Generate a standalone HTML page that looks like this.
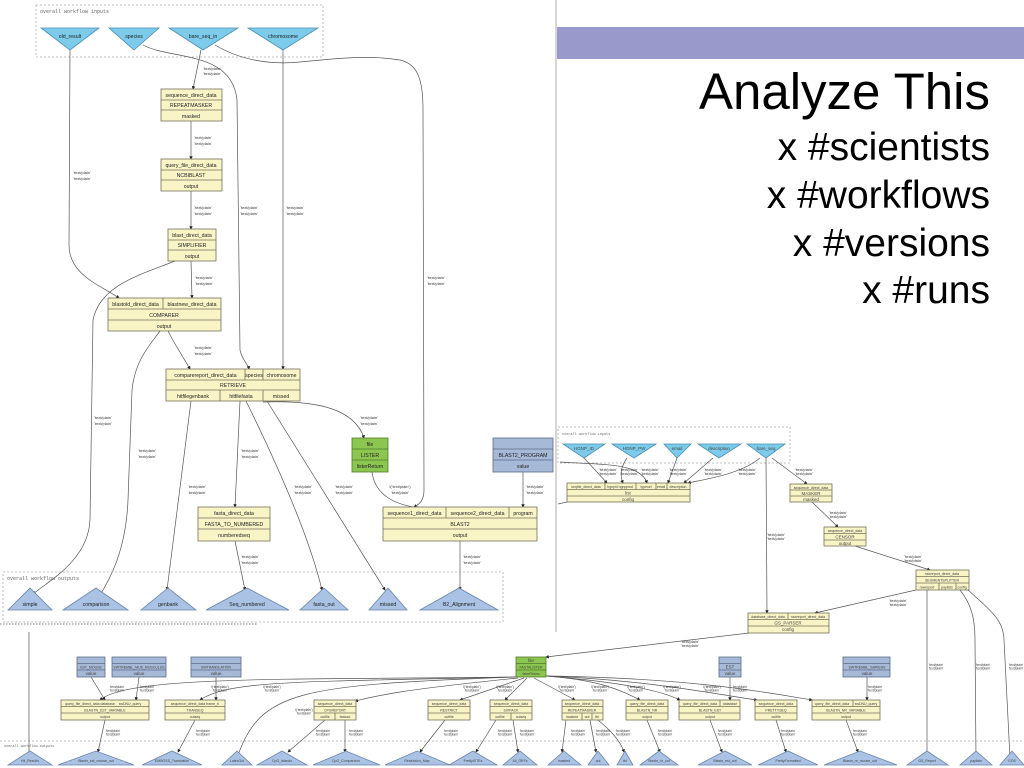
<!DOCTYPE html>
<html><head><meta charset="utf-8"><style>
html,body{margin:0;padding:0;background:#fff;}
svg{display:block;font-family:"Liberation Sans",sans-serif;}
.b{fill:#f8f4c6;stroke:#77705a;stroke-width:0.8}
.bl{fill:#a6b9d6;stroke:#5a6c8a;stroke-width:0.8}
.gr{fill:#8cc650;stroke:#4f7a28;stroke-width:0.8}
.ti{fill:#7ccbea;stroke:#4b8fb4;stroke-width:0.8}
.to{fill:#aac2e4;stroke:#6a84ac;stroke-width:0.8}
.e{fill:none;stroke:#555;stroke-width:0.7}
.d{fill:none;stroke:#aaa;stroke-width:0.8;stroke-dasharray:2,2}
.t{font-size:5.2px;fill:#222;text-anchor:middle}
.s{font-size:4px;fill:#333;text-anchor:middle}
.l{font-size:4.5px;fill:#444;text-anchor:middle}
.m{font-family:"Liberation Mono",monospace;font-size:5px;fill:#666}
</style></head><body>
<svg width="1024" height="768" viewBox="0 0 1024 768" xmlns="http://www.w3.org/2000/svg">
<defs><marker id="a" markerWidth="5" markerHeight="5" refX="4" refY="2.5" orient="auto"><path d="M0,0L5,2.5L0,5z" fill="#222"/></marker></defs>

<!-- slide chrome -->
<line x1="556" y1="0" x2="556" y2="632" stroke="#c8c8c8" stroke-width="1.5"/>
<rect x="557" y="27" width="467" height="32" fill="#9999cc"/>
<text x="990" y="109" font-size="51" text-anchor="end" fill="#000">Analyze This</text>
<text x="990" y="160" font-size="39" text-anchor="end">x #scientists</text>
<text x="990" y="208" font-size="39" text-anchor="end">x #workflows</text>
<text x="990" y="256" font-size="39" text-anchor="end">x #versions</text>
<text x="990" y="303" font-size="39" text-anchor="end">x #runs</text>

<!-- ============ LEFT DIAGRAM ============ -->
<rect class="d" x="36" y="5" width="287" height="52"/>
<text class="m" x="40" y="13">overall workflow inputs</text>
<polygon class="ti" points="41,28 99,28 70,50"/><text class="t" x="70" y="38">old_result</text>
<polygon class="ti" points="109,28 159,28 134,50"/><text class="t" x="134" y="38">species</text>
<polygon class="ti" points="169,28 238,28 203,50"/><text class="t" x="203" y="38">bare_seq_in</text>
<polygon class="ti" points="248,28 318,28 283,50"/><text class="t" x="283" y="38">chromosome</text>

<path class="e" marker-end="url(#a)" d="M70,50 L69,245 C69,275 100,285 119,298"/>
<path class="e" marker-end="url(#a)" d="M143,45 C170,60 232,50 237,100 L240,350 C242,360 248,364 249,369"/>
<path class="e" marker-end="url(#a)" d="M201,50 L193,89"/>
<path class="e" marker-end="url(#a)" d="M215,45 C240,60 270,65 300,62 C340,58 370,55 400,60 C418,64 423,80 423,110 L424,490 C424,500 420,504 414,507"/>
<path class="e" marker-end="url(#a)" d="M283,50 L283,369"/>
<path class="e" marker-end="url(#a)" d="M191,121 L191,159"/>
<path class="e" marker-end="url(#a)" d="M191,191 L191,229"/>
<path class="e" marker-end="url(#a)" d="M191,261 L192,298"/>
<path class="e" marker-end="url(#a)" d="M175,261 C140,275 100,285 93,320 L90,520 C88,560 50,580 33,594"/>
<path class="e" marker-end="url(#a)" d="M160,331 C150,345 135,360 132,390 L128,500 C126,550 110,580 98,598"/>
<path class="e" marker-end="url(#a)" d="M168,331 C175,345 185,360 190,369"/>
<path class="e" marker-end="url(#a)" d="M191,401 L167,590"/>
<path class="e" marker-end="url(#a)" d="M240,401 L235,507"/>
<path class="e" marker-end="url(#a)" d="M246,401 C280,470 310,540 322,590"/>
<path class="e" marker-end="url(#a)" d="M267,401 L385,590"/>
<path class="e" marker-end="url(#a)" d="M263,402 C320,400 355,410 364,438"/>
<path class="e" marker-end="url(#a)" d="M372,472 C375,495 395,505 420,508"/>
<path class="e" marker-end="url(#a)" d="M523,472 L523,507"/>
<path class="e" marker-end="url(#a)" d="M235,541 L245,590"/>
<path class="e" marker-end="url(#a)" d="M460,541 L460,590"/>

<g class="s">
<text x="212" y="70">'text/plain'</text><text x="212" y="75">'text/plain'</text>
<text x="203" y="139">'text/plain'</text><text x="203" y="145">'text/plain'</text>
<text x="203" y="209">'text/plain'</text><text x="203" y="215">'text/plain'</text>
<text x="204" y="279">'text/plain'</text><text x="204" y="285">'text/plain'</text>
<text x="82" y="174">'text/plain'</text><text x="82" y="180">'text/plain'</text>
<text x="249" y="209">'text/plain'</text><text x="249" y="215">'text/plain'</text>
<text x="295" y="209">'text/plain'</text><text x="295" y="215">'text/plain'</text>
<text x="436" y="279">'text/plain'</text><text x="436" y="285">'text/plain'</text>
<text x="203" y="349">'text/plain'</text><text x="203" y="355">'text/plain'</text>
<text x="103" y="419">'text/plain'</text><text x="103" y="425">'text/plain'</text>
<text x="147" y="452">'text/plain'</text><text x="147" y="458">'text/plain'</text>
<text x="250" y="452">'text/plain'</text><text x="250" y="458">'text/plain'</text>
<text x="197" y="488">'text/plain'</text><text x="197" y="494">'text/plain'</text>
<text x="303" y="488">'text/plain'</text><text x="303" y="494">'text/plain'</text>
<text x="344" y="488">'text/plain'</text><text x="344" y="494">'text/plain'</text>
<text x="369" y="419">'text/plain'</text><text x="369" y="425">'text/plain'</text>
<text x="400" y="488">l('text/plain')</text><text x="400" y="494">'text/plain'</text>
<text x="535" y="488">'text/plain'</text><text x="535" y="494">'text/plain'</text>
<text x="250" y="558">'text/plain'</text><text x="250" y="564">'text/plain'</text>
<text x="472" y="558">'text/plain'</text><text x="472" y="564">'text/plain'</text>
</g>

<g>
<rect class="b" x="161" y="89" width="61" height="32"/><line class="b" x1="161" y1="100" x2="222" y2="100"/><line class="b" x1="161" y1="110" x2="222" y2="110"/>
<text class="t" x="191" y="97">sequence_direct_data</text><text class="t" x="191" y="107">REPEATMASKER</text><text class="t" x="191" y="118">masked</text>
<rect class="b" x="161" y="159" width="61" height="32"/><line class="b" x1="161" y1="170" x2="222" y2="170"/><line class="b" x1="161" y1="180" x2="222" y2="180"/>
<text class="t" x="191" y="167">query_file_direct_data</text><text class="t" x="191" y="177">NCBIBLAST</text><text class="t" x="191" y="188">output</text>
<rect class="b" x="168" y="229" width="48" height="32"/><line class="b" x1="168" y1="240" x2="216" y2="240"/><line class="b" x1="168" y1="250" x2="216" y2="250"/>
<text class="t" x="192" y="237">blast_direct_data</text><text class="t" x="192" y="247">SIMPLIFIER</text><text class="t" x="192" y="258">output</text>
<rect class="b" x="108" y="298" width="113" height="33"/><line class="b" x1="108" y1="309" x2="221" y2="309"/><line class="b" x1="108" y1="320" x2="221" y2="320"/><line class="b" x1="163" y1="298" x2="163" y2="309"/>
<text class="t" x="135.5" y="306">blastold_direct_data</text><text class="t" x="192" y="306">blastnew_direct_data</text><text class="t" x="164" y="317">COMPARER</text><text class="t" x="164" y="328">output</text>
<rect class="b" x="166" y="369" width="134" height="32"/><line class="b" x1="166" y1="380" x2="300" y2="380"/><line class="b" x1="166" y1="390" x2="300" y2="390"/>
<line class="b" x1="245" y1="369" x2="245" y2="380"/><line class="b" x1="263" y1="369" x2="263" y2="380"/><line class="b" x1="220" y1="390" x2="220" y2="401"/><line class="b" x1="263" y1="390" x2="263" y2="401"/>
<text class="t" x="205.5" y="377">comparereport_direct_data</text><text class="t" x="254" y="377">species</text><text class="t" x="281.5" y="377">chromosome</text>
<text class="t" x="233" y="387">RETRIEVE</text><text class="t" x="193" y="398">hitfilegenbank</text><text class="t" x="241" y="398">hitfilefasta</text><text class="t" x="281" y="398">missed</text>
<rect class="gr" x="352" y="438" width="36" height="34"/><line class="gr" x1="352" y1="449" x2="388" y2="449"/><line class="gr" x1="352" y1="460" x2="388" y2="460"/>
<text class="t" x="370" y="446">file</text><text class="t" x="370" y="457">LISTER</text><text class="t" x="370" y="468">listerReturn</text>
<rect class="bl" x="493" y="438" width="60" height="34"/><line class="bl" x1="493" y1="449" x2="553" y2="449"/><line class="bl" x1="493" y1="460" x2="553" y2="460"/>
<text class="t" x="523" y="457">BLAST2_PROGRAM</text><text class="t" x="523" y="468">value</text>
<rect class="b" x="383" y="507" width="154" height="34"/><line class="b" x1="383" y1="518" x2="537" y2="518"/><line class="b" x1="383" y1="529" x2="537" y2="529"/><line class="b" x1="446" y1="507" x2="446" y2="518"/><line class="b" x1="509" y1="507" x2="509" y2="518"/>
<text class="t" x="414.5" y="515">sequence1_direct_data</text><text class="t" x="477.5" y="515">sequence2_direct_data</text><text class="t" x="523" y="515">program</text>
<text class="t" x="460" y="526">BLAST2</text><text class="t" x="460" y="537">output</text>
<rect class="b" x="198" y="507" width="72" height="34"/><line class="b" x1="198" y1="518" x2="270" y2="518"/><line class="b" x1="198" y1="529" x2="270" y2="529"/>
<text class="t" x="234" y="515">fasta_direct_data</text><text class="t" x="234" y="526">FASTA_TO_NUMBERED</text><text class="t" x="234" y="537">numberedseq</text>
</g>

<rect class="d" x="3" y="572" width="500" height="50"/>
<text class="m" x="7" y="580">overall workflow outputs</text>
<polygon class="to" points="8,610 52,610 30,588"/><text class="t" x="30" y="606">simple</text>
<polygon class="to" points="63,610 128,610 96,588"/><text class="t" x="96" y="606">comparison</text>
<polygon class="to" points="141,610 196,610 168,588"/><text class="t" x="168" y="606">genbank</text>
<polygon class="to" points="206,610 289,610 247,588"/><text class="t" x="247" y="606">Seq_numbered</text>
<polygon class="to" points="300,610 348,610 324,588"/><text class="t" x="324" y="606">fasta_out</text>
<polygon class="to" points="369,610 407,610 388,588"/><text class="t" x="388" y="606">missed</text>
<polygon class="to" points="420,610 498,610 459,588"/><text class="t" x="459" y="606">B2_Alignment</text>

<!-- ============ RIGHT MIDDLE DIAGRAM ============ -->
<rect class="d" x="558" y="427" width="232" height="36"/>
<text class="m" x="562" y="435" style="font-size:3.5px">overall workflow inputs</text>
<g class="l">
<polygon class="ti" points="563,444 605,444 584,458"/><text x="584" y="450">HGNP_ID</text>
<polygon class="ti" points="612,444 656,444 634,458"/><text x="634" y="450">HGNP_PW</text>
<polygon class="ti" points="664,444 691,444 677,458"/><text x="677" y="450">email</text>
<polygon class="ti" points="698,444 741,444 719,458"/><text x="719" y="450">description</text>
<polygon class="ti" points="747,444 785,444 766,458"/><text x="766" y="450">bare_seq</text>
</g>
<path class="e" marker-end="url(#a)" d="M584,458 L607,483"/>
<path class="e" marker-end="url(#a)" d="M627,458 C620,468 620,476 623,483"/>
<path class="e" marker-end="url(#a)" d="M560,462 C600,465 640,462 647,483"/>
<path class="e" marker-end="url(#a)" d="M677,458 L668,483"/>
<path class="e" marker-end="url(#a)" d="M713,458 L684,483"/>
<path class="e" marker-end="url(#a)" d="M760,458 C740,475 700,480 688,483"/>
<path class="e" marker-end="url(#a)" d="M766,458 L767,613"/>
<path class="e" marker-end="url(#a)" d="M772,458 L807,484"/>
<path class="e" marker-end="url(#a)" d="M812,502 L838,527"/>
<path class="e" marker-end="url(#a)" d="M855,546 L930,570"/>
<path class="e" marker-end="url(#a)" d="M916,590 L815,613"/>
<path class="e" d="M567,502 L558,504"/>
<g class="s">
<text x="608" y="471">'text/plain'</text><text x="608" y="475">'text/plain'</text>
<text x="629" y="471">'text/plain'</text><text x="629" y="475">'text/plain'</text>
<text x="650" y="471">'text/plain'</text><text x="650" y="475">'text/plain'</text>
<text x="678" y="471">'text/plain'</text><text x="678" y="475">'text/plain'</text>
<text x="713" y="471">'text/plain'</text><text x="713" y="475">'text/plain'</text>
<text x="747" y="471">'text/plain'</text><text x="747" y="475">'text/plain'</text>
<text x="804" y="471">'text/plain'</text><text x="804" y="475">'text/plain'</text>
<text x="776" y="536">'text/plain'</text><text x="776" y="540">'text/plain'</text>
<text x="838" y="514">'text/plain'</text><text x="838" y="518">'text/plain'</text>
<text x="913" y="558">'text/plain'</text><text x="913" y="562">'text/plain'</text>
<text x="898" y="602">'text/plain'</text><text x="898" y="606">'text/plain'</text>
</g>
<g class="l">
<rect class="b" x="567" y="483" width="123" height="19"/><line class="b" x1="567" y1="489.5" x2="690" y2="489.5"/><line class="b" x1="567" y1="496" x2="690" y2="496"/>
<line class="b" x1="605" y1="483" x2="605" y2="489.5"/><line class="b" x1="636" y1="483" x2="636" y2="489.5"/><line class="b" x1="656" y1="483" x2="656" y2="489.5"/><line class="b" x1="667" y1="483" x2="667" y2="489.5"/>
<text x="586" y="488" style="font-size:3.5px">seqfile_direct_data</text><text x="620" y="488" style="font-size:3.5px">hgnpid hgnppwd</text><text x="646" y="488" style="font-size:3.5px">typesel</text><text x="661" y="488" style="font-size:3.5px">email</text><text x="678" y="488" style="font-size:3.5px">description</text>
<text x="628" y="494.5">list</text><text x="628" y="501">config</text>
<rect class="b" x="790" y="484" width="42" height="18"/><line class="b" x1="790" y1="490" x2="832" y2="490"/><line class="b" x1="790" y1="496" x2="832" y2="496"/>
<text x="811" y="489" style="font-size:3.5px">sequence_direct_data</text><text x="811" y="495">MASKER</text><text x="811" y="501">masked</text>
<rect class="b" x="824" y="527" width="42" height="19"/><line class="b" x1="824" y1="533.5" x2="866" y2="533.5"/><line class="b" x1="824" y1="540" x2="866" y2="540"/>
<text x="845" y="532" style="font-size:3.5px">sequence_direct_data</text><text x="845" y="538.5">CENSOR</text><text x="845" y="545">output</text>
<rect class="b" x="916" y="570" width="53" height="20"/><line class="b" x1="916" y1="576.5" x2="969" y2="576.5"/><line class="b" x1="916" y1="583" x2="969" y2="583"/><line class="b" x1="939" y1="583" x2="939" y2="590"/><line class="b" x1="956" y1="583" x2="956" y2="590"/>
<text x="942" y="575" style="font-size:3.5px">rawreport_direct_data</text><text x="942" y="581.5" style="font-size:3.5px">SEGMENTSPLITTER</text><text x="927" y="588.5" style="font-size:3.5px">rawreport</text><text x="947" y="588.5" style="font-size:3.5px">paylists</text><text x="962" y="588.5" style="font-size:3.5px">config</text>
<rect class="b" x="748" y="613" width="81" height="20"/><line class="b" x1="748" y1="619.5" x2="829" y2="619.5"/><line class="b" x1="748" y1="626" x2="829" y2="626"/><line class="b" x1="788" y1="613" x2="788" y2="619.5"/>
<text x="768" y="618" style="font-size:3.5px">database_direct_data</text><text x="808" y="618" style="font-size:3.5px">rawreport_direct_data</text><text x="788" y="624.5">GS_PARSER</text><text x="788" y="631">config</text>
</g>
<path class="e" marker-end="url(#a)" d="M927,590 L927,758"/>
<path class="e" marker-end="url(#a)" d="M960,590 C972,605 975,620 975,640 L976,758"/>
<path class="e" marker-end="url(#a)" d="M968,590 C990,610 1004,620 1004,640 L1010,758"/>

<!-- ============ BOTTOM DIAGRAM ============ -->
<line class="d" x1="0" y1="741" x2="1024" y2="741"/>
<text class="m" x="4" y="747" style="font-size:3.5px">overall workflow outputs</text>
<path class="e" d="M0,624 L257,624" stroke-dasharray="1.5,1.5"/>
<path class="e" marker-end="url(#a)" d="M29,632 L29,758"/>
<path class="e" marker-end="url(#a)" d="M749,633 L546,657"/>
<text class="s" x="690" y="643">'text/plain'</text><text class="s" x="690" y="647">'text/plain'</text>

<g class="e">
<path marker-end="url(#a)" d="M516,677 C300,680 130,675 100,700"/>
<path marker-end="url(#a)" d="M516,677 C300,682 230,680 200,700"/>
<path marker-end="url(#a)" d="M516,677 C300,685 260,690 237,758"/>
<path marker-end="url(#a)" d="M518,678 C400,690 380,695 355,701"/>
<path marker-end="url(#a)" d="M524,678 L460,700"/>
<path marker-end="url(#a)" d="M527,678 L505,700"/>
<path marker-end="url(#a)" d="M534,678 L575,700"/>
<path marker-end="url(#a)" d="M546,676 C600,680 620,690 640,700"/>
<path marker-end="url(#a)" d="M546,676 C620,682 660,690 680,700"/>
<path marker-end="url(#a)" d="M546,676 C650,680 720,695 757,700"/>
<path marker-end="url(#a)" d="M546,676 C700,678 780,695 812,700"/>
<path marker-end="url(#a)" d="M91,677 L105,700"/>
<path marker-end="url(#a)" d="M139,677 L136,700"/>
<path marker-end="url(#a)" d="M216,677 L216,700"/>
<path marker-end="url(#a)" d="M730,677 L730,700"/>
<path marker-end="url(#a)" d="M867,677 L867,700"/>
<path marker-end="url(#a)" d="M105,720 L98,752"/>
<path marker-end="url(#a)" d="M195,720 L178,752"/>
<path marker-end="url(#a)" d="M325,720 L288,752"/>
<path marker-end="url(#a)" d="M345,720 L345,752"/>
<path marker-end="url(#a)" d="M445,720 L420,752"/>
<path marker-end="url(#a)" d="M496,720 L476,752"/>
<path marker-end="url(#a)" d="M513,720 L518,752"/>
<path marker-end="url(#a)" d="M566,720 L562,752"/>
<path marker-end="url(#a)" d="M590,720 L596,752"/>
<path marker-end="url(#a)" d="M598,720 C610,730 620,740 624,752"/>
<path marker-end="url(#a)" d="M647,720 L660,752"/>
<path marker-end="url(#a)" d="M710,720 L722,752"/>
<path marker-end="url(#a)" d="M776,720 L786,752"/>
<path marker-end="url(#a)" d="M846,720 L858,752"/>
</g>
<g class="l">
<rect class="gr" x="516" y="657" width="30" height="20"/><line class="gr" x1="516" y1="663.5" x2="546" y2="663.5"/><line class="gr" x1="516" y1="670" x2="546" y2="670"/>
<text x="531" y="662">file</text><text x="531" y="668.5" style="font-size:3.5px">FASTALISTER</text><text x="531" y="675" style="font-size:3.5px">listerReturn</text>
<rect class="bl" x="77" y="657" width="28" height="20"/><line class="bl" x1="77" y1="663.5" x2="105" y2="663.5"/><line class="bl" x1="77" y1="670" x2="105" y2="670"/><text x="91" y="668.5" style="font-size:3.5px">EST_MOUSE</text><text x="91" y="675">value</text>
<rect class="bl" x="112" y="657" width="54" height="20"/><line class="bl" x1="112" y1="663.5" x2="166" y2="663.5"/><line class="bl" x1="112" y1="670" x2="166" y2="670"/><text x="139" y="668.5" style="font-size:3.5px">SWTREMBL_MUS_MUSCULUS</text><text x="139" y="675">value</text>
<rect class="bl" x="191" y="657" width="50" height="20"/><line class="bl" x1="191" y1="663.5" x2="241" y2="663.5"/><line class="bl" x1="191" y1="670" x2="241" y2="670"/><text x="216" y="668.5" style="font-size:3.5px">SWTRANSLATION</text><text x="216" y="675">value</text>
<rect class="bl" x="719" y="657" width="22" height="20"/><line class="bl" x1="719" y1="663.5" x2="741" y2="663.5"/><line class="bl" x1="719" y1="670" x2="741" y2="670"/><text x="730" y="668.5">EST</text><text x="730" y="675">value</text>
<rect class="bl" x="843" y="657" width="47" height="20"/><line class="bl" x1="843" y1="663.5" x2="890" y2="663.5"/><line class="bl" x1="843" y1="670" x2="890" y2="670"/><text x="867" y="668.5" style="font-size:3.5px">SWTREMBL_SAPIENS</text><text x="867" y="675">value</text>
</g>
<g class="l" style="font-size:3.5px">
<rect class="b" x="61" y="700" width="88" height="20"/><line class="b" x1="61" y1="706.5" x2="149" y2="706.5"/><line class="b" x1="61" y1="713" x2="149" y2="713"/><text x="90" y="705">query_file_direct_data database</text><text x="130" y="705">swDNU_query</text><text x="105" y="711.5">BLASTN_EST_VARIABLE</text><text x="105" y="718">output</text>
<rect class="b" x="165" y="700" width="60" height="20"/><line class="b" x1="165" y1="706.5" x2="225" y2="706.5"/><line class="b" x1="165" y1="713" x2="225" y2="713"/><text x="195" y="705">sequence_direct_data frame_fr</text><text x="195" y="711.5">TRANSEQ</text><text x="195" y="718">outseq</text>
<rect class="b" x="314" y="700" width="42" height="20"/><line class="b" x1="314" y1="706.5" x2="356" y2="706.5"/><line class="b" x1="314" y1="713" x2="356" y2="713"/><line class="b" x1="335" y1="713" x2="335" y2="720"/><text x="335" y="705">sequence_direct_data</text><text x="335" y="711.5">CPGREPORT</text><text x="325" y="718">outfile</text><text x="345" y="718">featout</text>
<rect class="b" x="428" y="700" width="42" height="20"/><line class="b" x1="428" y1="706.5" x2="470" y2="706.5"/><line class="b" x1="428" y1="713" x2="470" y2="713"/><text x="449" y="705">sequence_direct_data</text><text x="449" y="711.5">RESTRICT</text><text x="449" y="718">outfile</text>
<rect class="b" x="490" y="700" width="42" height="20"/><line class="b" x1="490" y1="706.5" x2="532" y2="706.5"/><line class="b" x1="490" y1="713" x2="532" y2="713"/><line class="b" x1="511" y1="713" x2="511" y2="720"/><text x="511" y="705">sequence_direct_data</text><text x="511" y="711.5">SIXPACK</text><text x="500" y="718">outfile</text><text x="521" y="718">outseq</text>
<rect class="b" x="562" y="700" width="41" height="20"/><line class="b" x1="562" y1="706.5" x2="603" y2="706.5"/><line class="b" x1="562" y1="713" x2="603" y2="713"/><line class="b" x1="582" y1="713" x2="582" y2="720"/><line class="b" x1="592" y1="713" x2="592" y2="720"/><text x="582" y="705">sequence_direct_data</text><text x="582" y="711.5">REPEATMASKER</text><text x="572" y="718">masked</text><text x="587" y="718">out</text><text x="597" y="718">tbl</text>
<rect class="b" x="626" y="700" width="42" height="20"/><line class="b" x1="626" y1="706.5" x2="668" y2="706.5"/><line class="b" x1="626" y1="713" x2="668" y2="713"/><text x="647" y="705">query_file_direct_data</text><text x="647" y="711.5">BLASTN_NR</text><text x="647" y="718">output</text>
<rect class="b" x="679" y="700" width="61" height="20"/><line class="b" x1="679" y1="706.5" x2="740" y2="706.5"/><line class="b" x1="679" y1="713" x2="740" y2="713"/><line class="b" x1="720" y1="700" x2="720" y2="706.5"/><text x="700" y="705">query_file_direct_data</text><text x="730" y="705">database</text><text x="710" y="711.5">BLASTN_EST</text><text x="710" y="718">output</text>
<rect class="b" x="755" y="700" width="42" height="20"/><line class="b" x1="755" y1="706.5" x2="797" y2="706.5"/><line class="b" x1="755" y1="713" x2="797" y2="713"/><text x="776" y="705">sequence_direct_data</text><text x="776" y="711.5">PRETTYSEQ</text><text x="776" y="718">outfile</text>
<rect class="b" x="812" y="700" width="68" height="20"/><line class="b" x1="812" y1="706.5" x2="880" y2="706.5"/><line class="b" x1="812" y1="713" x2="880" y2="713"/><line class="b" x1="853" y1="700" x2="853" y2="706.5"/><text x="832" y="705">query_file_direct_data</text><text x="866" y="705">swDNU_query</text><text x="846" y="711.5">BLASTN_NR_VARIABLE</text><text x="846" y="718">output</text>
</g>

<g class="s" style="font-size:3.3px">
<text x="117" y="688">'text/plain'</text><text x="117" y="691.5">'text/plain'</text>
<text x="147" y="688">'text/plain'</text><text x="147" y="691.5">'text/plain'</text>
<text x="220" y="688">l('text/plain')</text><text x="220" y="691.5">'text/plain'</text>
<text x="272" y="688">l('text/plain')</text><text x="272" y="691.5">'text/plain'</text>
<text x="304" y="711">l('text/plain')</text><text x="304" y="714.5">'text/plain'</text>
<text x="472" y="688">l('text/plain')</text><text x="472" y="691.5">'text/plain'</text>
<text x="505" y="688">l('text/plain')</text><text x="505" y="691.5">'text/plain'</text>
<text x="567" y="688">l('text/plain')</text><text x="567" y="691.5">'text/plain'</text>
<text x="600" y="688">l('text/plain')</text><text x="600" y="691.5">'text/plain'</text>
<text x="636" y="688">l('text/plain')</text><text x="636" y="691.5">'text/plain'</text>
<text x="672" y="688">l('text/plain')</text><text x="672" y="691.5">'text/plain'</text>
<text x="712" y="688">l('text/plain')</text><text x="712" y="691.5">'text/plain'</text>
<text x="740" y="688">'text/plain'</text><text x="740" y="691.5">'text/plain'</text>
<text x="875" y="688">'text/plain'</text><text x="875" y="691.5">'text/plain'</text>
<text x="113" y="732">'text/plain'</text><text x="113" y="735.5">'text/plain'</text>
<text x="203" y="732">'text/plain'</text><text x="203" y="735.5">'text/plain'</text>
<text x="323" y="732">'text/plain'</text><text x="323" y="735.5">'text/plain'</text>
<text x="356" y="732">'text/plain'</text><text x="356" y="735.5">'text/plain'</text>
<text x="451" y="732">'text/plain'</text><text x="451" y="735.5">'text/plain'</text>
<text x="505" y="732">'text/plain'</text><text x="505" y="735.5">'text/plain'</text>
<text x="527" y="732">'text/plain'</text><text x="527" y="735.5">'text/plain'</text>
<text x="578" y="732">'text/plain'</text><text x="578" y="735.5">'text/plain'</text>
<text x="603" y="732">'text/plain'</text><text x="603" y="735.5">'text/plain'</text>
<text x="623" y="732">'text/plain'</text><text x="623" y="735.5">'text/plain'</text>
<text x="665" y="732">'text/plain'</text><text x="665" y="735.5">'text/plain'</text>
<text x="725" y="732">'text/plain'</text><text x="725" y="735.5">'text/plain'</text>
<text x="788" y="732">'text/plain'</text><text x="788" y="735.5">'text/plain'</text>
<text x="860" y="732">'text/plain'</text><text x="860" y="735.5">'text/plain'</text>
<text x="936" y="666">'text/plain'</text><text x="936" y="669.5">'text/plain'</text>
<text x="983" y="666">'text/plain'</text><text x="983" y="669.5">'text/plain'</text>
<text x="1016" y="666">'text/plain'</text><text x="1016" y="669.5">'text/plain'</text>
</g>

<g class="l" style="font-size:3.5px">
<polygon class="to" points="8,765 52,765 30,751"/><text x="30" y="762">Hit_Results</text>
<polygon class="to" points="58,765 134,765 96,751"/><text x="96" y="762">Blastn_est_mouse_out</text>
<polygon class="to" points="142,765 202,765 172,751"/><text x="172" y="762">EMBOSS_Translation</text>
<polygon class="to" points="222,765 252,765 237,751"/><text x="237" y="762">LatexOut</text>
<polygon class="to" points="257,765 307,765 282,751"/><text x="282" y="762">CpG_islands</text>
<polygon class="to" points="313,765 380,765 346,751"/><text x="346" y="762">CpG_Comparison</text>
<polygon class="to" points="385,765 450,765 417,751"/><text x="417" y="762">Restriction_Map</text>
<polygon class="to" points="449,765 497,765 473,751"/><text x="473" y="762">PrettySITEs</text>
<polygon class="to" points="503,765 537,765 520,751"/><text x="520" y="762">All_ORFs</text>
<polygon class="to" points="548,765 581,765 564,751"/><text x="564" y="762">masked</text>
<polygon class="to" points="588,765 609,765 598,751"/><text x="598" y="762">out</text>
<polygon class="to" points="617,765 633,765 625,751"/><text x="625" y="762">tbl</text>
<polygon class="to" points="640,765 678,765 659,751"/><text x="659" y="762">Blastn_nr_out</text>
<polygon class="to" points="698,765 752,765 725,751"/><text x="725" y="762">Blastn_est_out</text>
<polygon class="to" points="758,765 818,765 788,751"/><text x="788" y="762">PrettyFormatted</text>
<polygon class="to" points="824,765 897,765 860,751"/><text x="860" y="762">Blastn_nr_mouse_out</text>
<polygon class="to" points="907,765 948,765 927,751"/><text x="927" y="762">GS_Report</text>
<polygon class="to" points="960,765 992,765 976,751"/><text x="976" y="762">paylists</text>
<polygon class="to" points="1000,765 1024,765 1012,751"/><text x="1012" y="762">GOS</text>
</g>
</svg>
</body></html>
